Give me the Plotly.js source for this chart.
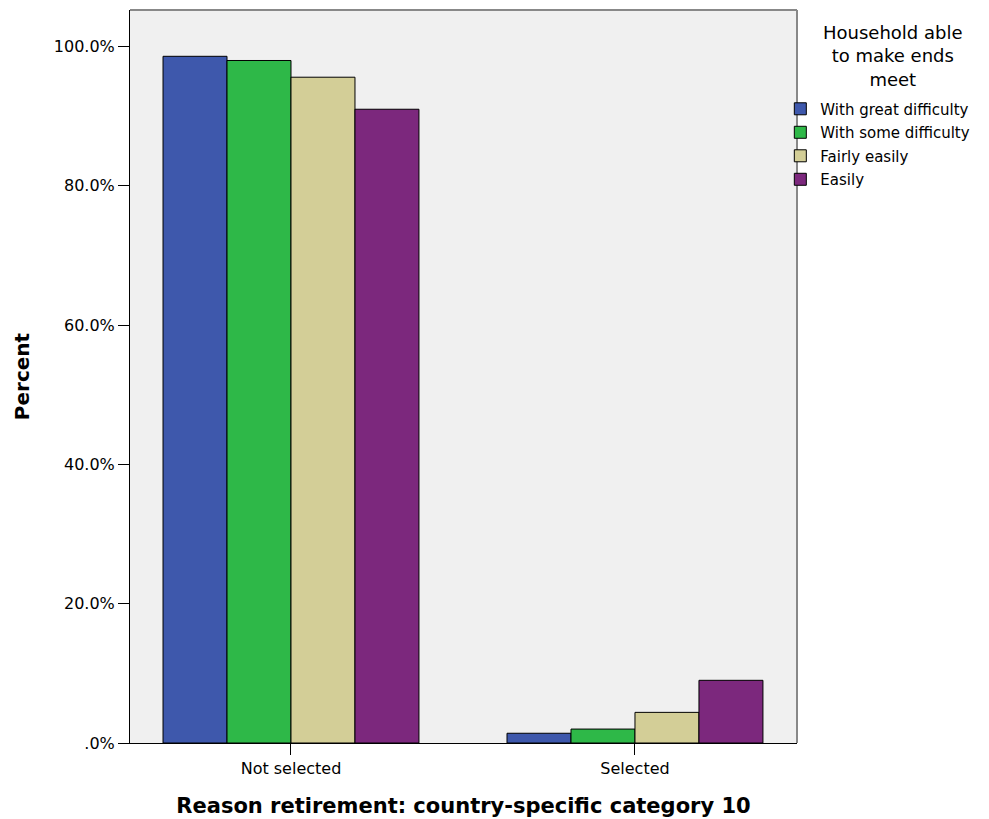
<!DOCTYPE html>
<html>
<head>
<meta charset="utf-8">
<script src="https://cdn.plot.ly/plotly-3.0.1.min.js"></script>
<style>html,body{margin:0;padding:0;background:#fff;}#chart{width:989px;height:819px;}</style>
</head>
<body>
<div id="chart"></div>
<script>
const categories = ["Not selected", "Selected"];
const seriesNames = ["With great difficulty", "With some difficulty", "Fairly easily", "Easily"];
const seriesColors = ["#3E58AC", "#2EB848", "#D3CE97", "#7C287D"];
const withGreatDifficulty = [98.6, 1.4];
const withSomeDifficulty = [98.0, 2.0];
const fairlyEasily = [95.6, 4.4];
const easily = [91.0, 9.0];
const seriesValues = [withGreatDifficulty, withSomeDifficulty, fairlyEasily, easily];
const yTickVals = [0, 20, 40, 60, 80, 100];
const yTickText = [".0%", "20.0%", "40.0%", "60.0%", "80.0%", "100.0%"];
const legendTitle = "Household able<br>to make ends<br>meet";
const xTitle = "Reason retirement: country-specific category 10";
const yTitle = "Percent";

const traces = seriesNames.map((name, i) => ({
  type: "bar",
  name: name,
  x: categories,
  y: seriesValues[i],
  legendgroup: "g" + i,
  marker: {color: seriesColors[i], line: {color: "#000", width: 1}},
  hoverinfo: "none"
}));

const layout = {
  width: 989, height: 819,
  margin: {l: 130, r: 192, t: 10, b: 76},
  paper_bgcolor: "#fff",
  plot_bgcolor: "#f0f0f0",
  font: {family: "DejaVu Sans, sans-serif", color: "#000", size: 16},
  barmode: "group",
  bargap: 0.256,
  bargroupgap: 0,
  showlegend: true,
  legend: {
    x: 0.975, xanchor: "left", y: 0.8874, yanchor: "top",
    traceorder: "grouped", tracegroupgap: 1,
    font: {size: 15, color: "#000", family: "DejaVu Sans, sans-serif"},
    bgcolor: "rgba(0,0,0,0)",
    itemclick: false
  },
  annotations: [
    {text: legendTitle, xref: "paper", yref: "paper", x: 1.1439, y: 0.9863,
     xanchor: "center", yanchor: "top", align: "center", showarrow: false,
     font: {size: 18, color: "#000", family: "DejaVu Sans, sans-serif"}}
  ],
  xaxis: {
    type: "category",
    range: [-0.468, 1.471],
    showgrid: false, zeroline: false,
    showline: true, linecolor: "#000", linewidth: 1,
    ticks: "outside", ticklen: 11, tickcolor: "#000",
    tickfont: {size: 16},
    title: {text: xTitle, font: {size: 21, family: "DejaVu Sans, sans-serif", weight: "bold"}, standoff: 21}
  },
  yaxis: {
    range: [0, 105.25],
    showgrid: false, zeroline: false,
    showline: true, linecolor: "#000", linewidth: 1,
    ticks: "outside", ticklen: 11, tickcolor: "#000",
    tickvals: yTickVals, ticktext: yTickText,
    tickfont: {size: 16},
    title: {text: yTitle, font: {size: 20, family: "DejaVu Sans, sans-serif", weight: "bold"}, standoff: 18}
  },
  shapes: [
    {type: "line", xref: "paper", yref: "paper", x0: 0, x1: 1, y0: 1, y1: 1, line: {color: "#888", width: 2}},
    {type: "line", xref: "paper", yref: "paper", x0: 1, x1: 1, y0: 0, y1: 1, line: {color: "#888", width: 2}}
  ]
};

Plotly.newPlot("chart", traces, layout, {displayModeBar: false, staticPlot: true});
</script>
</body>
</html>
